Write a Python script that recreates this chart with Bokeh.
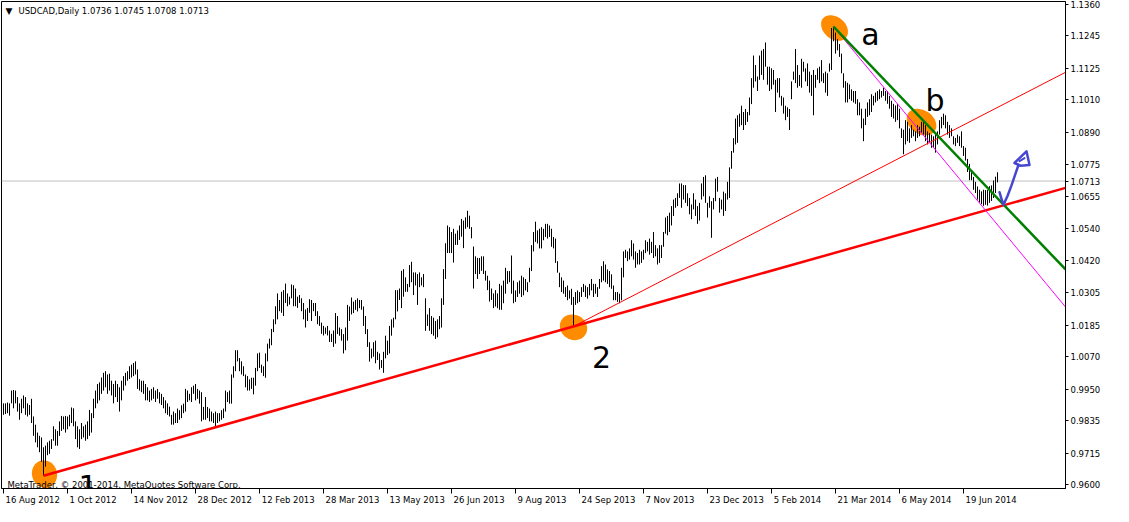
from bokeh.plotting import figure
from bokeh.models import (Range1d, FixedTicker, PrintfTickFormatter, Label, LinearAxis, Span)
from bokeh.embed import file_html
from bokeh.resources import INLINE

# ---------------- data ----------------
SYMBOL = "USDCAD,Daily"
LAST_OHLC = ["1.0736", "1.0745", "1.0708", "1.0713"]
LAST_CLOSE = 1.0713

# daily highs / lows, one per bar, 16 Aug 2012 onwards
HIGH = [
    0.9898, 0.9898, 0.9901, 0.9898, 0.9945, 0.9947, 0.9945, 0.9921, 0.9898, 0.9915,
    0.9927, 0.9921, 0.9898, 0.9892, 0.9915, 0.9850, 0.9820, 0.9791, 0.9779, 0.9773,
    0.9737, 0.9743, 0.9755, 0.9761, 0.9767, 0.9814, 0.9803, 0.9797, 0.9832, 0.9852,
    0.9850, 0.9852, 0.9850, 0.9856, 0.9883, 0.9880, 0.9832, 0.9814, 0.9803, 0.9826,
    0.9814, 0.9820, 0.9832, 0.9874, 0.9862, 0.9915, 0.9945, 0.9969, 0.9975, 0.9993,
    1.0010, 1.0016, 1.0004, 1.0007, 0.9981, 0.9969, 0.9981, 0.9969, 0.9957, 0.9981,
    0.9998, 1.0010, 1.0016, 1.0034, 1.0040, 1.0046, 1.0052, 1.0022, 0.9987, 0.9981,
    0.9981, 0.9969, 0.9957, 0.9945, 0.9951, 0.9957, 0.9945, 0.9951, 0.9939, 0.9933,
    0.9921, 0.9909, 0.9898, 0.9886, 0.9856, 0.9868, 0.9862, 0.9879, 0.9873, 0.9891,
    0.9897, 0.9951, 0.9945, 0.9933, 0.9957, 0.9963, 0.9969, 0.9951, 0.9945, 0.9939,
    0.9885, 0.9921, 0.9885, 0.9879, 0.9868, 0.9862, 0.9868, 0.9862, 0.9862, 0.9873,
    0.9879, 0.9945, 0.9939, 0.9945, 1.0004, 1.0034, 1.0093, 1.0093, 1.0064, 1.0052,
    1.0034, 1.0004, 0.9998, 0.9986, 0.9992, 0.9992, 1.0028, 1.0081, 1.0084, 1.0040,
    1.0034, 1.0081, 1.0117, 1.0135, 1.0171, 1.0206, 1.0254, 1.0301, 1.0277, 1.0307,
    1.0313, 1.0337, 1.0301, 1.0289, 1.0334, 1.0331, 1.0319, 1.0289, 1.0295, 1.0283,
    1.0266, 1.0242, 1.0248, 1.0280, 1.0277, 1.0266, 1.0266, 1.0236, 1.0218, 1.0194,
    1.0182, 1.0176, 1.0182, 1.0165, 1.0153, 1.0165,
    1.0229, 1.0218, 1.0176, 1.0170,
    1.0152, 1.0176, 1.0259, 1.0253, 1.0286, 1.0271, 1.0277, 1.0283, 1.0277, 1.0277,
    1.0253, 1.0218, 1.0170, 1.0122, 1.0099, 1.0122, 1.0128, 1.0087, 1.0081, 1.0057,
    1.0087, 1.0146, 1.0128, 1.0182, 1.0206, 1.0212, 1.0313, 1.0313, 1.0319, 1.0384,
    1.0390, 1.0360, 1.0336, 1.0405, 1.0417, 1.0378, 1.0378, 1.0372, 1.0378, 1.0360,
    1.0372, 1.0283, 1.0224, 1.0247, 1.0218, 1.0212, 1.0200, 1.0206, 1.0218, 1.0283,
    1.0390, 1.0485, 1.0550, 1.0544, 1.0526, 1.0538, 1.0520, 1.0532, 1.0550, 1.0574,
    1.0568, 1.0580, 1.0604, 1.0586, 1.0544, 1.0473, 1.0437, 1.0431, 1.0431, 1.0437,
    1.0437, 1.0384, 1.0366, 1.0348, 1.0319, 1.0301, 1.0313, 1.0301, 1.0336,
    1.0330,
    1.0348, 1.0395, 1.0383, 1.0383, 1.0440, 1.0348, 1.0312, 1.0342, 1.0348, 1.0366,
    1.0360, 1.0354, 1.0342, 1.0395, 1.0478, 1.0526, 1.0564, 1.0532, 1.0538, 1.0544,
    1.0538, 1.0556, 1.0556, 1.0550, 1.0538, 1.0508, 1.0502, 1.0419, 1.0377, 1.0360,
    1.0348, 1.0324, 1.0330, 1.0312, 1.0318, 1.0288, 1.0306, 1.0312, 1.0306, 1.0324,
    1.0336, 1.0330, 1.0324, 1.0336, 1.0354, 1.0336, 1.0336, 1.0324, 1.0354, 1.0401,
    1.0419, 1.0407, 1.0389, 1.0383, 1.0371, 1.0330, 1.0306, 1.0306, 1.0300, 1.0395,
    1.0455, 1.0461, 1.0455, 1.0466, 1.0496, 1.0484, 1.0455, 1.0449, 1.0461, 1.0455,
    1.0461, 1.0496, 1.0490, 1.0502, 1.0490, 1.0526, 1.0478, 1.0466, 1.0478, 1.0478,
    1.0526, 1.0579,
    1.0585, 1.0597, 1.0621, 1.0645, 1.0651, 1.0668, 1.0704, 1.0704,
    1.0698, 1.0698, 1.0668, 1.0651, 1.0627, 1.0668, 1.0645, 1.0621, 1.0633, 1.0704,
    1.0728, 1.0734, 1.0633, 1.0657, 1.0639, 1.0651, 1.0722, 1.0728, 1.0651, 1.0645,
    1.0674, 1.0668, 1.0710, 1.0763, 1.0823, 1.0870, 1.0942, 1.0954, 1.0960, 1.0989,
    1.0966, 1.0977, 1.0966, 1.1019, 1.1090, 1.1173, 1.1138, 1.1096, 1.1173, 1.1191,
    1.1197, 1.1221, 1.1132, 1.1132, 1.1126, 1.1120, 1.1084, 1.1090, 1.1090, 1.1025,
    1.1019, 1.0989, 1.0983, 1.0977, 1.1078, 1.1114, 1.1197, 1.1138, 1.1102, 1.1161,
    1.1150, 1.1126, 1.1144, 1.1114, 1.1102, 1.1120, 1.1102, 1.1126, 1.1132, 1.1156,
    1.1108, 1.1114, 1.1108, 1.1144,
    1.1274, 1.1279, 1.1257, 1.1233, 1.1215, 1.1180,
    1.1108, 1.1079, 1.1073, 1.1067, 1.1049, 1.1043, 1.1043, 1.1013, 1.1001, 1.0978,
    1.0942, 1.0978, 1.1001, 1.1013, 1.1031, 1.1025, 1.1037, 1.1043, 1.1049, 1.1043,
    1.1055, 1.1043, 1.1043, 1.1025, 1.1007, 1.0996, 1.0990, 1.0996, 1.0978, 1.0906,
    1.0901, 1.0936, 1.0930, 1.0906, 1.0918, 1.0901, 1.0895, 1.0918, 1.0912, 1.0930,
    1.0936, 1.0918, 1.0895, 1.0889, 1.0883, 1.0877, 1.0883, 1.0895, 1.0936, 1.0948,
    1.0960, 1.0954, 1.0930, 1.0918, 1.0906, 1.0877, 1.0871, 1.0883, 1.0877, 1.0895,
    1.0841, 1.0835, 1.0794, 1.0776, 1.0752, 1.0728, 1.0710, 1.0693, 1.0681, 1.0675,
    1.0681, 1.0680, 1.0680, 1.0694, 1.0697, 1.0715, 1.0729, 1.0745,
]

LOW = [
    0.9856, 0.9859, 0.9862, 0.9853, 0.9898, 0.9880, 0.9898, 0.9868, 0.9838, 0.9862,
    0.9880, 0.9856, 0.9850, 0.9856, 0.9826, 0.9779, 0.9755, 0.9737, 0.9719, 0.9684,
    0.9633, 0.9666, 0.9708, 0.9713, 0.9731, 0.9761, 0.9743, 0.9743, 0.9779, 0.9797,
    0.9803, 0.9791, 0.9803, 0.9814, 0.9826, 0.9814, 0.9767, 0.9737, 0.9731, 0.9767,
    0.9773, 0.9761, 0.9767, 0.9779, 0.9791, 0.9844, 0.9880, 0.9898, 0.9909, 0.9933,
    0.9945, 0.9957, 0.9933, 0.9945, 0.9927, 0.9898, 0.9921, 0.9903, 0.9868, 0.9909,
    0.9945, 0.9963, 0.9981, 0.9987, 0.9993, 0.9998, 1.0004, 0.9951, 0.9945, 0.9939,
    0.9933, 0.9909, 0.9909, 0.9903, 0.9909, 0.9915, 0.9903, 0.9915, 0.9898, 0.9892,
    0.9880, 0.9862, 0.9856, 0.9850, 0.9820, 0.9820, 0.9826, 0.9826, 0.9838, 0.9844,
    0.9862, 0.9868, 0.9903, 0.9909, 0.9903, 0.9933, 0.9909, 0.9915, 0.9897, 0.9832,
    0.9838, 0.9838, 0.9844, 0.9832, 0.9832, 0.9826, 0.9812, 0.9826, 0.9832, 0.9838,
    0.9844, 0.9868, 0.9903, 0.9897, 0.9897, 0.9992, 1.0016, 1.0052, 1.0016, 1.0004,
    0.9998, 0.9957, 0.9945, 0.9945, 0.9951, 0.9931, 0.9963, 1.0016, 1.0028, 1.0010,
    0.9998, 0.9992, 1.0052, 1.0099, 1.0111, 1.0159, 1.0188, 1.0206, 1.0236, 1.0230,
    1.0218, 1.0266, 1.0254, 1.0260, 1.0283, 1.0254, 1.0254, 1.0248, 1.0266, 1.0236,
    1.0206, 1.0176, 1.0200, 1.0230, 1.0200, 1.0236, 1.0218, 1.0188, 1.0182, 1.0153,
    1.0147, 1.0153, 1.0147, 1.0123, 1.0123, 1.0105,
    1.0117, 1.0152, 1.0146, 1.0128,
    1.0081, 1.0093, 1.0128, 1.0200, 1.0224, 1.0229, 1.0241, 1.0235, 1.0247, 1.0241,
    1.0182, 1.0152, 1.0105, 1.0051, 1.0063, 1.0069, 1.0045, 1.0057, 1.0022, 1.0028,
    1.0010, 1.0063, 1.0075, 1.0081, 1.0146, 1.0176, 1.0206, 1.0235, 1.0277, 1.0247,
    1.0289, 1.0307, 1.0307, 1.0324, 1.0342, 1.0295, 1.0330, 1.0259, 1.0324, 1.0330,
    1.0324, 1.0164, 1.0182, 1.0164, 1.0152, 1.0146, 1.0134, 1.0140, 1.0170, 1.0176,
    1.0259, 1.0354, 1.0449, 1.0449, 1.0449, 1.0414, 1.0479, 1.0479, 1.0497, 1.0509,
    1.0467, 1.0538, 1.0544, 1.0538, 1.0503, 1.0319, 1.0372, 1.0354, 1.0372, 1.0384,
    1.0372, 1.0348, 1.0313, 1.0271, 1.0277, 1.0247, 1.0253, 1.0247, 1.0241,
    1.0241,
    1.0265, 1.0300, 1.0336, 1.0342, 1.0300, 1.0265, 1.0270, 1.0288, 1.0300, 1.0288,
    1.0294, 1.0312, 1.0306, 1.0342, 1.0383, 1.0455, 1.0490, 1.0484, 1.0466, 1.0466,
    1.0496, 1.0508, 1.0502, 1.0508, 1.0472, 1.0466, 1.0413, 1.0377, 1.0324, 1.0306,
    1.0300, 1.0288, 1.0276, 1.0282, 1.0259, 1.0180, 1.0259, 1.0265, 1.0270, 1.0288,
    1.0306, 1.0288, 1.0282, 1.0294, 1.0312, 1.0288, 1.0300, 1.0288, 1.0318, 1.0342,
    1.0348, 1.0342, 1.0336, 1.0324, 1.0318, 1.0276, 1.0276, 1.0270, 1.0265, 1.0276,
    1.0360, 1.0431, 1.0419, 1.0425, 1.0437, 1.0425, 1.0395, 1.0407, 1.0407, 1.0413,
    1.0425, 1.0449, 1.0455, 1.0443, 1.0449, 1.0431, 1.0437, 1.0407, 1.0413, 1.0431,
    1.0472, 1.0520,
    1.0514, 1.0526, 1.0550, 1.0585, 1.0615, 1.0621, 1.0651, 1.0615,
    1.0645, 1.0633, 1.0621, 1.0591, 1.0573, 1.0609, 1.0585, 1.0556, 1.0568, 1.0645,
    1.0657, 1.0633, 1.0579, 1.0615, 1.0505, 1.0609, 1.0639, 1.0674, 1.0597, 1.0609,
    1.0585, 1.0603, 1.0645, 1.0651, 1.0758, 1.0817, 1.0847, 1.0853, 1.0912, 1.0918,
    1.0900, 1.0918, 1.0930, 1.0954, 1.0995, 1.1055, 1.1078, 1.1043, 1.1084, 1.1102,
    1.1084, 1.1132, 1.1066, 1.1043, 1.1049, 1.1066, 1.0966, 1.1037, 1.1019, 1.0989,
    1.0960, 1.0936, 1.0948, 1.0900, 1.1013, 1.1084, 1.1072, 1.1055, 1.1061, 1.1055,
    1.1114, 1.1078, 1.1061, 1.1037, 1.1025, 1.0954, 1.1055, 1.1084, 1.1072, 1.1078,
    1.1072, 1.1037, 1.1025, 1.1114,
    1.1120, 1.1225, 1.1180, 1.1192, 1.1168, 1.1108,
    1.1055, 1.1001, 1.1001, 1.1013, 1.1007, 1.1001, 1.0996, 1.0954, 1.0954, 1.0906,
    1.0859, 1.0918, 1.0948, 1.0954, 1.0966, 1.0990, 1.1001, 1.1007, 1.1013, 1.1019,
    1.1025, 1.1007, 1.0996, 1.0978, 1.0948, 1.0942, 1.0930, 1.0936, 1.0906, 1.0871,
    1.0811, 1.0847, 1.0859, 1.0853, 1.0871, 1.0877, 1.0859, 1.0871, 1.0877, 1.0889,
    1.0883, 1.0859, 1.0847, 1.0853, 1.0835, 1.0835, 1.0817, 1.0847, 1.0883, 1.0906,
    1.0918, 1.0906, 1.0883, 1.0871, 1.0877, 1.0847, 1.0841, 1.0853, 1.0841, 1.0835,
    1.0805, 1.0788, 1.0746, 1.0716, 1.0716, 1.0681, 1.0669, 1.0645, 1.0634, 1.0628,
    1.0622, 1.0626, 1.0623, 1.0633, 1.0640, 1.0651, 1.0669, 1.0708,
]

DATE_TICK_BARS = [0, 32, 64, 96, 128, 160, 192, 224, 256, 288, 320, 352, 384, 416, 448, 480]
DATE_LABELS = ["16 Aug 2012", "1 Oct 2012", "14 Nov 2012", "28 Dec 2012", "12 Feb 2013",
               "28 Mar 2013", "13 May 2013", "26 Jun 2013", "9 Aug 2013", "24 Sep 2013",
               "7 Nov 2013", "23 Dec 2013", "5 Feb 2014", "21 Mar 2014", "6 May 2014",
               "19 Jun 2014"]
PRICE_TICKS = [0.9600, 0.9715, 0.9835, 0.9950, 1.0070, 1.0185, 1.0305, 1.0420,
               1.0540, 1.0655, 1.0713, 1.0775, 1.0890, 1.1010, 1.1125, 1.1245, 1.1360]

# hand-drawn analysis objects, each line given by two anchor points (bar, price)
SUPPORT = [(20, 0.9633), (285, 1.0180)]      # thick red, low 1 -> low 2
CHANNEL = [(285, 1.0180), (543, 1.1157)]     # thin red from low 2
GREEN = [(415, 1.1279), (543, 1.0297)]       # green a -> b
MAGENTA = [(415, 1.1279), (543, 1.0145)]     # magenta from a
MARK_X = [20.5, 285, 415.5, 459]             # orange markers
MARK_Y = [0.9639, 1.0177, 1.1274, 1.0929]
MARK_W = [25, 28, 30, 32]
MARK_H = [28, 25, 22, 24]
MARK_ANGLE = [0.3, -0.5, -0.7, -0.6]
TAG_TEXT = ["1", "2", "a", "b"]
TAG_X = [42.25, 299, 433.5, 465.75]
TAG_Y = [0.9594, 1.0067, 1.1250, 1.1007]
ARROW_X = [498, 499, 500, 502, 504, 506, 507.5]
ARROW_Y = [1.0672, 1.0647, 1.0626, 1.0658, 1.0697, 1.0740, 1.0772]
HEAD_X = [505.5, 509, 511.5, 513, 508.5, 505.5]
HEAD_Y = [1.0779, 1.0804, 1.0822, 1.0772, 1.0769, 1.0779]
HEAD2_X = [508, 510.5]
HEAD2_Y = [1.0786, 1.0797]

# ---------------- layout ----------------
PX_PER_BAR = 2
FRAME_W, FRAME_H = 1064, 487
X_MIN = -1.0
X_MAX = X_MIN + FRAME_W / PX_PER_BAR
Y_MIN, Y_MAX = 0.9586, 1.1371

FONT = "DejaVu Sans"
FS_PX = 8.5
FS = "8.5px"
# DejaVu Sans advance widths (em) used to start each date label at its tick
ADV = {" ": 0.318, "A": 0.684, "u": 0.634, "g": 0.635, "O": 0.787, "c": 0.550, "t": 0.392,
       "N": 0.748, "o": 0.612, "v": 0.592, "D": 0.770, "e": 0.615, "F": 0.575, "b": 0.635,
       "M": 0.863, "a": 0.613, "r": 0.411, "y": 0.592, "J": 0.295, "n": 0.634, "S": 0.635,
       "p": 0.635}


def text_width(s):
    return sum(ADV.get(ch, 0.636) for ch in s) * FS_PX


def extend(anchors, x_end):
    (x0, y0), (x1, y1) = anchors
    slope = (y1 - y0) / (x1 - x0)
    return [x0, x_end], [y0, y0 + slope * (x_end - x0)]


# ---------------- figure ----------------
p = figure(frame_width=FRAME_W, frame_height=FRAME_H, output_backend="svg", toolbar_location=None,
           x_range=Range1d(X_MIN, X_MAX), y_range=Range1d(Y_MIN, Y_MAX),
           y_axis_location="right", min_border=0)
p.min_border_left = 1
p.min_border_top = 1
p.min_border_bottom = 18
p.grid.visible = False
p.outline_line_color = "black"
p.outline_line_width = 1
p.background_fill_color = "white"
p.border_fill_color = "white"

yax = p.yaxis[0]
yax.ticker = FixedTicker(ticks=PRICE_TICKS)
yax.formatter = PrintfTickFormatter(format="%.4f")
yax.major_tick_in = 0
yax.major_tick_out = 3
yax.minor_tick_line_color = None
yax.major_label_standoff = 2
yax.major_label_text_font = FONT
yax.major_label_text_font_size = FS
yax.major_label_text_color = "black"
yax.axis_line_color = "black"
yax.major_tick_line_color = "black"

# tick marks of the time scale
xax = p.xaxis[0]
xax.ticker = FixedTicker(ticks=DATE_TICK_BARS)
xax.major_label_overrides = {b: "" for b in DATE_TICK_BARS}
xax.major_label_text_font_size = "0px"
xax.major_label_standoff = 0
xax.major_tick_in = 0
xax.major_tick_out = 5
xax.minor_tick_line_color = None
xax.axis_line_color = "black"
xax.major_tick_line_color = "black"

# date labels: MetaTrader writes them starting just right of each tick
label_pos = [round(b + (text_width(t) / 2 + 2) / PX_PER_BAR, 3)
             for b, t in zip(DATE_TICK_BARS, DATE_LABELS)]
date_axis = LinearAxis(ticker=FixedTicker(ticks=label_pos),
                       major_label_overrides=dict(zip(label_pos, DATE_LABELS)),
                       major_tick_in=0, major_tick_out=0, major_tick_line_color=None,
                       minor_tick_line_color=None, axis_line_color=None,
                       major_label_standoff=1, major_label_text_font=FONT,
                       major_label_text_font_size=FS, major_label_text_color="black")
p.add_layout(date_axis, "below")

# current price line
p.add_layout(Span(location=LAST_CLOSE, dimension="width", line_color="#C0C0C0",
                  line_width=1, level="underlay"))

# orange markers
p.ellipse(x=MARK_X, y=MARK_Y, width=MARK_W, height=MARK_H, angle=MARK_ANGLE,
          width_units="screen", height_units="screen",
          fill_color="#FF8C00", line_color=None)

# bars
bars = list(range(len(HIGH)))
p.segment(x0=bars, y0=LOW, x1=bars, y1=HIGH, line_color="black", line_width=1)

# trend lines
sx, sy = extend(SUPPORT, X_MAX)
p.line(sx, sy, line_color="#FF0000", line_width=2.5)
cx, cy = extend(CHANNEL, X_MAX)
p.line(cx, cy, line_color="#FF0000", line_width=1)
mx, my = extend(MAGENTA, X_MAX)
p.line(mx, my, line_color="#FF00FF", line_width=1)
gx, gy = extend(GREEN, X_MAX)
p.line(gx, gy, line_color="#008000", line_width=2.5)

# blue hand-drawn arrow
p.line(ARROW_X, ARROW_Y, line_color="#4646D2", line_width=2.5, line_join="round", line_cap="round")
p.line(HEAD_X, HEAD_Y, line_color="#4646D2", line_width=2.5, line_join="round", line_cap="round")
p.line(HEAD2_X, HEAD2_Y, line_color="#4646D2", line_width=2, line_cap="round")

# header
p.add_layout(Label(x=X_MIN, y=Y_MAX, x_offset=4, y_offset=-4, text="\u25BC",
                   text_font=FONT, text_font_size="9px", text_baseline="top", text_color="black"))
p.add_layout(Label(x=X_MIN, y=Y_MAX, x_offset=17, y_offset=-4,
                   text=SYMBOL + "  " + " ".join(LAST_OHLC),
                   text_font=FONT, text_font_size=FS, text_baseline="top", text_color="black"))

# copyright
p.add_layout(Label(x=X_MIN, y=Y_MIN, x_offset=6, y_offset=4,
                   text="MetaTrader, \u00A9 2001-2014, MetaQuotes Software Corp.",
                   text_font=FONT, text_font_size=FS, text_baseline="alphabetic", text_color="black"))

# wave tags
for t, x, y in zip(TAG_TEXT, TAG_X, TAG_Y):
    p.add_layout(Label(x=x, y=y, text=t, text_font=FONT, text_font_size="30px",
                       text_align="center", text_baseline="alphabetic", text_color="black"))

open("out.html", "w").write(file_html(p, INLINE))
